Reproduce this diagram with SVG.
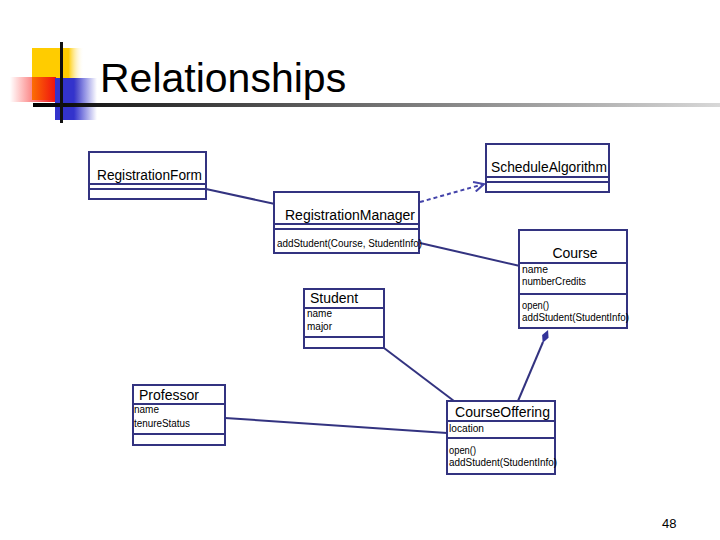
<svg xmlns="http://www.w3.org/2000/svg" width="720" height="540" viewBox="0 0 720 540">
<defs>
<linearGradient id="gY" x1="0" y1="0" x2="1" y2="0"><stop offset="0" stop-color="#FFCC00"/><stop offset="0.7" stop-color="#FFCC00"/><stop offset="1" stop-color="#FFFFFF" stop-opacity="0"/></linearGradient>
<linearGradient id="gR" x1="0" y1="0" x2="1" y2="0"><stop offset="0" stop-color="#FF0000" stop-opacity="0"/><stop offset="1" stop-color="#EE1111"/></linearGradient>
<linearGradient id="gB" x1="0" y1="0" x2="1" y2="0"><stop offset="0" stop-color="#3333CC"/><stop offset="0.45" stop-color="#3333CC"/><stop offset="1" stop-color="#3333CC" stop-opacity="0"/></linearGradient>
<linearGradient id="gL" x1="0" y1="0" x2="1" y2="0"><stop offset="0" stop-color="#000000"/><stop offset="0.12" stop-color="#222222"/><stop offset="1" stop-color="#D8D8D8"/></linearGradient>
<marker id="open" viewBox="0 0 12 12" refX="11" refY="6" markerWidth="12" markerHeight="12" markerUnits="userSpaceOnUse" orient="auto"><path d="M1,1 L11,6 L1,11" fill="none" stroke="#4444AA" stroke-width="2"/></marker>
<marker id="diamond" viewBox="0 0 14 8" refX="1" refY="4" markerWidth="14" markerHeight="8" markerUnits="userSpaceOnUse" orient="auto"><path d="M0,4 L7,0.5 L14,4 L7,7.5 Z" fill="#333399"/></marker>
</defs>
<style>
.box{fill:#FFFFFF;stroke:#333380;stroke-width:2}
.sep{stroke:#333380;stroke-width:2}
.t{font-family:"Liberation Sans",Arial,sans-serif;font-size:14px;fill:#000}
.s{font-family:"Liberation Sans",Arial,sans-serif;font-size:10px;fill:#000}
.c{fill:none;stroke:#333380;stroke-width:2}
</style>
<g id="header">
<rect x="32" y="48" width="52" height="52" fill="url(#gY)"/>
<rect x="10" y="77" width="46" height="25" fill="url(#gR)"/>
<rect x="55" y="78" width="42" height="42" fill="url(#gB)"/>
<rect x="33" y="103" width="687" height="4" fill="url(#gL)"/>
<rect x="60" y="42" width="3" height="81" fill="#111111"/>
<text x="100" y="92" font-family="Liberation Sans,Arial,sans-serif" font-size="41" fill="#000">Relationships</text>
</g>
<g id="connectors">
<line class="c" x1="206" y1="189" x2="275" y2="204"/>
<line x1="420" y1="202" x2="484" y2="184" stroke="#4444AA" stroke-width="2" stroke-dasharray="4,3" marker-end="url(#open)"/>
<line class="c" x1="420" y1="243" x2="520" y2="266"/>
<line class="c" x1="384" y1="348" x2="454" y2="401"/>
<line class="c" x1="518" y1="401" x2="543" y2="342" marker-end="url(#diamond)"/>
<line class="c" x1="225" y1="418" x2="447" y2="433"/>
</g>
<g id="RegistrationForm">
<rect class="box" x="89" y="152" width="117" height="47"/>
<line class="sep" x1="89" y1="184" x2="206" y2="184"/>
<line class="sep" x1="89" y1="189" x2="206" y2="189"/>
<text class="t" x="97" y="180" textLength="105" lengthAdjust="spacingAndGlyphs">RegistrationForm</text>
</g>
<g id="ScheduleAlgorithm">
<rect class="box" x="486" y="144" width="123" height="48"/>
<line class="sep" x1="486" y1="177" x2="609" y2="177"/>
<line class="sep" x1="486" y1="182" x2="609" y2="182"/>
<text class="t" x="491" y="172" textLength="116" lengthAdjust="spacingAndGlyphs">ScheduleAlgorithm</text>
</g>
<g id="RegistrationManager">
<rect class="box" x="274" y="192" width="145" height="61"/>
<line class="sep" x1="274" y1="224" x2="419" y2="224"/>
<line class="sep" x1="274" y1="229" x2="419" y2="229"/>
<text class="t" x="285" y="220" textLength="130" lengthAdjust="spacingAndGlyphs">RegistrationManager</text>
<text class="s" x="277" y="247" textLength="145" lengthAdjust="spacingAndGlyphs">addStudent(Course, StudentInfo)</text>
</g>
<g id="Course">
<rect class="box" x="519" y="230" width="108" height="98"/>
<line class="sep" x1="519" y1="263" x2="627" y2="263"/>
<line class="sep" x1="519" y1="294" x2="627" y2="294"/>
<text class="t" x="575" y="258" text-anchor="middle">Course</text>
<text class="s" x="522" y="273" textLength="26" lengthAdjust="spacingAndGlyphs">name</text>
<text class="s" x="522" y="285" textLength="64" lengthAdjust="spacingAndGlyphs">numberCredits</text>
<text class="s" x="522" y="309" textLength="27" lengthAdjust="spacingAndGlyphs">open()</text>
<text class="s" x="522" y="321" textLength="107" lengthAdjust="spacingAndGlyphs">addStudent(StudentInfo)</text>
</g>
<g id="Student">
<rect class="box" x="304" y="289" width="80" height="59"/>
<line class="sep" x1="304" y1="308" x2="384" y2="308"/>
<line class="sep" x1="304" y1="337" x2="384" y2="337"/>
<text class="t" x="310" y="303">Student</text>
<text class="s" x="307" y="317" textLength="25" lengthAdjust="spacingAndGlyphs">name</text>
<text class="s" x="307" y="330" textLength="25" lengthAdjust="spacingAndGlyphs">major</text>
</g>
<g id="Professor">
<rect class="box" x="133" y="385" width="92" height="60"/>
<line class="sep" x1="133" y1="404" x2="225" y2="404"/>
<line class="sep" x1="133" y1="434" x2="225" y2="434"/>
<text class="t" x="139" y="400">Professor</text>
<text class="s" x="134" y="413" textLength="25" lengthAdjust="spacingAndGlyphs">name</text>
<text class="s" x="134" y="427" textLength="56" lengthAdjust="spacingAndGlyphs">tenureStatus</text>
</g>
<g id="CourseOffering">
<rect class="box" x="447" y="401" width="108" height="73"/>
<line class="sep" x1="447" y1="421" x2="555" y2="421"/>
<line class="sep" x1="447" y1="438" x2="555" y2="438"/>
<text class="t" x="455" y="417" textLength="95" lengthAdjust="spacingAndGlyphs">CourseOffering</text>
<text class="s" x="449" y="432" textLength="35" lengthAdjust="spacingAndGlyphs">location</text>
<text class="s" x="449" y="454" textLength="27" lengthAdjust="spacingAndGlyphs">open()</text>
<text class="s" x="449" y="466" textLength="108" lengthAdjust="spacingAndGlyphs">addStudent(StudentInfo)</text>
</g>
<text x="662" y="528" font-family="Liberation Sans,Arial,sans-serif" font-size="13" fill="#000">48</text>
</svg>
